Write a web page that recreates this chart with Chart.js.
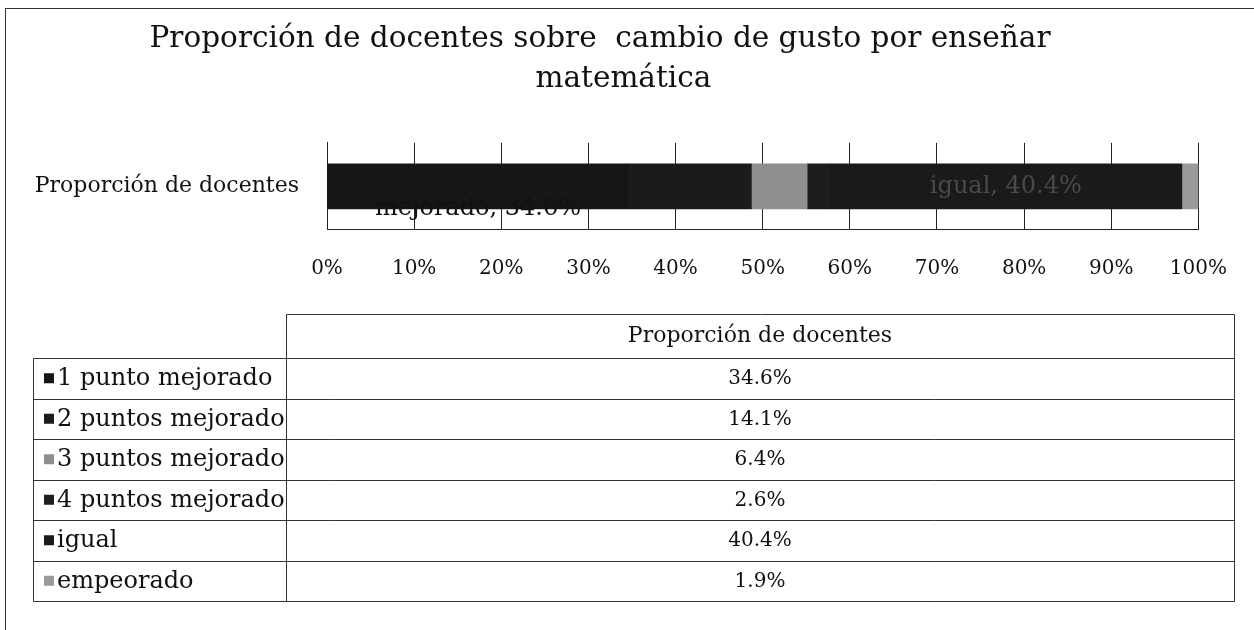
<!DOCTYPE html>
<html>
<head>
<meta charset="utf-8">
<script src="https://cdn.jsdelivr.net/npm/chart.js@4/dist/chart.umd.min.js"></script>
<style>
  html, body { margin: 0; padding: 0; background: #fff; }
  #wrap { width: 1254px; height: 630px; position: relative; }
</style>
</head>
<body>
<div id="wrap"><canvas id="chart" width="1254" height="630"></canvas></div>
<script>
const categories = ['Proporción de docentes'];
const seriesNames = ['1 punto mejorado', '2 puntos mejorado', '3 puntos mejorado', '4 puntos mejorado', 'igual', 'empeorado'];
const seriesValues = [34.6, 14.1, 6.4, 2.6, 40.4, 1.9];
const tickValues = [0, 10, 20, 30, 40, 50, 60, 70, 80, 90, 100];
// which series get a data label on the bar, and how it is split into lines
const labelLines = {
    0: ['1 punto', 'mejorado, 34.6%'],
    4: ['igual, 40.4%']
};

const seriesColors = ['#161616', '#1b1b1b', '#8f8f8f', '#1d1d1d', '#1a1a1a', '#9a9a9a'];
const FONT = '"DejaVu Serif", "Liberation Serif", serif';

function pct(v) {
    return v.toFixed(1) + '%';
}

// labels on the stacked bar
const barLabels = {
    id: 'barLabels',
    afterDatasetsDraw(chart) {
        const ctx = chart.ctx;
        ctx.save();
        ctx.font = '24px ' + FONT;
        ctx.textAlign = 'center';
        ctx.textBaseline = 'middle';
        Object.keys(labelLines).forEach(key => {
            const i = Number(key);
            const bar = chart.getDatasetMeta(i).data[0];
            const cx = (bar.x + bar.base) / 2;
            labelLines[i].forEach((line, n) => {
                // first series label: its top line sits inside the black bar
                ctx.fillStyle = i === 0 ? (n === 0 ? '#151515' : '#111') : '#4a4a4a';
                ctx.fillText(line, cx, bar.y + n * 22);
            });
        });
        ctx.restore();
    }
};

// data table with legend keys under the chart, plus outer frame
const dataTable = {
    id: 'dataTable',
    afterDraw(chart) {
        const ctx = chart.ctx;
        const left = 33, split = 286, right = 1234;
        const top = 314, headH = 44, rowH = 40.5;
        ctx.save();
        ctx.strokeStyle = '#333';
        ctx.lineWidth = 1;

        // outer frame
        ctx.strokeRect(5.5, 8.5, 1300, 700);

        const bodyTop = top + headH;
        const bottom = bodyTop + rowH * seriesNames.length;
        ctx.beginPath();
        // header box (value column only)
        ctx.moveTo(split + 0.5, top + 0.5);
        ctx.lineTo(right + 0.5, top + 0.5);
        ctx.lineTo(right + 0.5, bottom + 0.5);
        ctx.moveTo(split + 0.5, top + 0.5);
        ctx.lineTo(split + 0.5, bottom + 0.5);
        ctx.moveTo(left + 0.5, bodyTop + 0.5);
        ctx.lineTo(left + 0.5, bottom + 0.5);
        for (let r = 0; r <= seriesNames.length; r++) {
            const y = Math.round(bodyTop + r * rowH) + 0.5;
            ctx.moveTo(left + 0.5, y);
            ctx.lineTo(right + 0.5, y);
        }
        ctx.stroke();

        ctx.fillStyle = '#111';
        ctx.textBaseline = 'middle';
        ctx.textAlign = 'center';
        const midX = (split + right) / 2;
        ctx.font = '22px ' + FONT;
        ctx.fillText(categories[0], midX, top + headH / 2);

        seriesNames.forEach((name, i) => {
            const cy = bodyTop + rowH * i + rowH / 2;
            ctx.fillStyle = seriesColors[i];
            ctx.fillRect(44, cy - 5, 10, 10);
            ctx.fillStyle = '#111';
            ctx.textAlign = 'left';
            ctx.font = '24px ' + FONT;
            ctx.fillText(name, 57, cy + 1);
            ctx.textAlign = 'center';
            ctx.font = '20px ' + FONT;
            ctx.fillText(pct(seriesValues[i]), midX, cy + 1);
        });
        ctx.restore();
    }
};

new Chart(document.getElementById('chart'), {
    type: 'bar',
    data: {
        labels: categories,
        datasets: seriesNames.map((name, i) => ({
            label: name,
            data: [seriesValues[i]],
            backgroundColor: seriesColors[i],
            borderWidth: 0,
            barThickness: 45
        }))
    },
    options: {
        indexAxis: 'y',
        responsive: false,
        animation: false,
        layout: { padding: { left: 0, right: 54, top: 0, bottom: 348 } },
        plugins: {
            legend: { display: false },
            tooltip: { enabled: false },
            title: {
                display: true,
                text: ['Proporción de docentes sobre  cambio de gusto por enseñar', '     matemática'],
                color: '#111',
                font: { family: FONT, size: 29.5, weight: 'normal', lineHeight: 1.37 },
                padding: { top: 19, bottom: 43 }
            }
        },
        scales: {
            x: {
                stacked: true,
                min: 0,
                max: 100,
                afterBuildTicks: scale => {
                    scale.ticks = tickValues.map(v => ({ value: v }));
                },
                afterFit: scale => { scale.height = 52; },
                ticks: {
                    color: '#111',
                    font: { family: FONT, size: 20 },
                    padding: 27,
                    maxRotation: 0,
                    callback: v => v + '%'
                },
                grid: { color: '#222', drawTicks: false },
                border: { color: '#222' }
            },
            y: {
                stacked: true,
                afterFit: scale => { scale.width = 327; },
                ticks: {
                    color: '#111',
                    font: { family: FONT, size: 22 },
                    padding: 20
                },
                grid: { display: false },
                border: { color: '#222' }
            }
        }
    },
    plugins: [barLabels, dataTable]
});
</script>
</body>
</html>
